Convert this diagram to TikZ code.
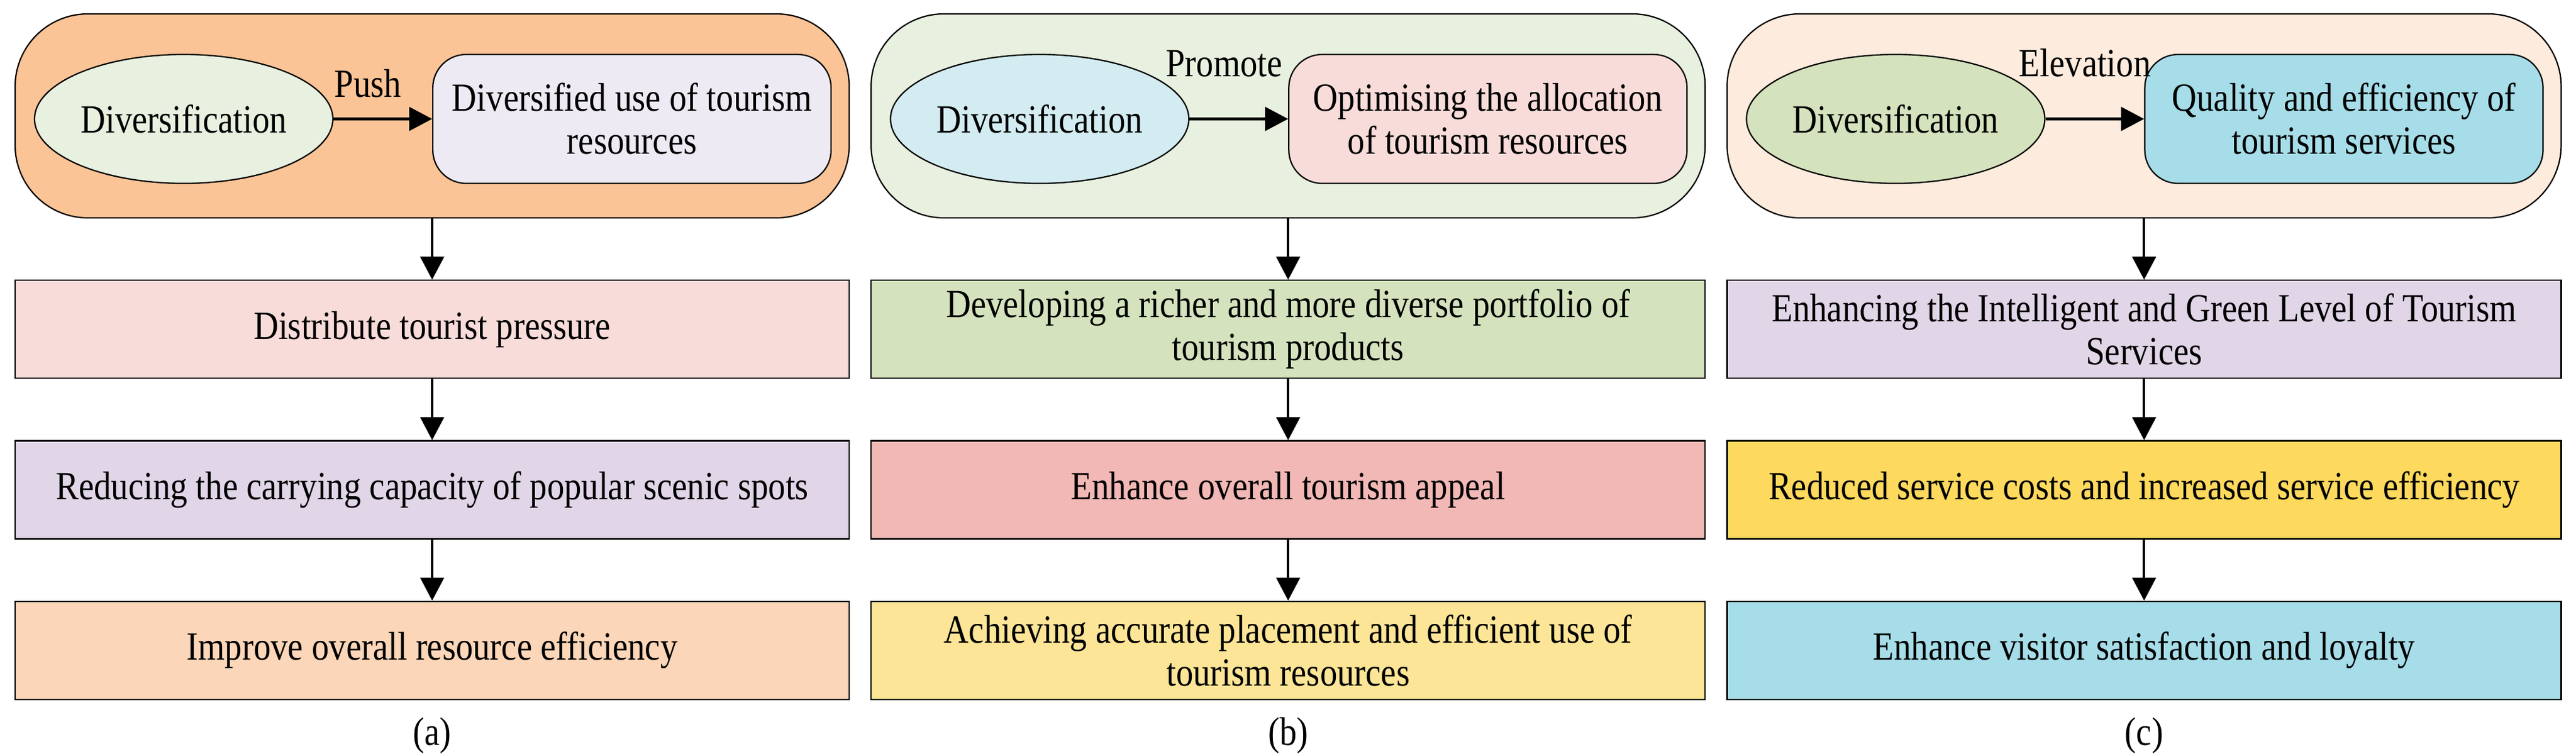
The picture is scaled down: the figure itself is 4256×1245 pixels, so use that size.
\documentclass[tikz,border=0pt]{standalone}
\usepackage{fontspec}
\setmainfont{Liberation Serif}[FakeStretch=0.86]
\usepackage{tikz}
\usetikzlibrary{shapes.geometric,arrows.meta,positioning}

\definecolor{peach}{HTML}{FBC497}
\definecolor{palegreen}{HTML}{E8F0DF}
\definecolor{lavender}{HTML}{EEEAF3}
\definecolor{palepink}{HTML}{F8DCDA}
\definecolor{lilac}{HTML}{E1D6E8}
\definecolor{lightpeach}{HTML}{FCD6B8}
\definecolor{paleblue}{HTML}{D3ECF2}
\definecolor{sage}{HTML}{D4E2BD}
\definecolor{salmon}{HTML}{F2B8B5}
\definecolor{paleyellow}{HTML}{FDE597}
\definecolor{cream}{HTML}{FDEBDD}
\definecolor{skyblue}{HTML}{A6DDE9}
\definecolor{gold}{HTML}{FDD95D}

\begin{document}
\begin{tikzpicture}[
    x=0.25pt, y=-0.25pt,
    node distance=25.25pt and 8.5pt,
    font=\fontsize{16.5}{17.75}\selectfont,
    panel/.style={rectangle, draw, line width=0.55pt, rounded corners=30pt, minimum width=344.5pt, minimum height=84.25pt},
    oval/.style={ellipse, draw, line width=0.55pt, minimum width=123.25pt, minimum height=53.25pt, inner sep=0pt},
    result/.style={rectangle, draw, line width=0.55pt, rounded corners=13.75pt, minimum width=164.5pt, minimum height=53.25pt, align=center, inner sep=2pt},
    box/.style={rectangle, draw, line width=0.55pt, minimum width=344.5pt, minimum height=40.5pt, align=center, inner sep=2pt},
    arrow/.style={-{Triangle[length=9.5pt,width=9.75pt]}, line width=1pt},
    tag/.style={inner sep=0pt, anchor=base},
    caption/.style={inner sep=0pt}
]
    \useasboundingbox (0,0) rectangle (4256,1245);

    % Panels
    \node[panel, fill=peach] (A) at (714,191.5) {};
    \node[panel, fill=palegreen, right=of A] (B) {};
    \node[panel, fill=cream, right=of B] (C) {};

    % Nodes inside the panels
    \node[oval, fill=palegreen, right=8pt of A.west, yshift=-1.25pt] (A0) {Diversification};
    \node[result, fill=lavender, right=0pt of A.center, yshift=-1.25pt] (AR) {Diversified use of tourism\\resources};
    \node[oval, fill=paleblue, right=8pt of B.west, yshift=-1.25pt] (B0) {Diversification};
    \node[result, fill=palepink, right=0pt of B.center, yshift=-1.25pt] (BR) {Optimising the allocation\\of tourism resources};
    \node[oval, fill=sage, right=8pt of C.west, yshift=-1.25pt] (C0) {Diversification};
    \node[result, fill=skyblue, right=0pt of C.center, yshift=-1.25pt] (CR) {Quality and efficiency of\\tourism services};

    % Boxes
    \node[box, fill=palepink, below=of A] (A1) {Distribute tourist pressure};
    \node[box, fill=lilac, below=of A1] (A2) {Reducing the carrying capacity of popular scenic spots};
    \node[box, fill=lightpeach, below=of A2] (A3) {Improve overall resource efficiency};
    \node[box, fill=sage, below=of B] (B1) {Developing a richer and more diverse portfolio of\\tourism products};
    \node[box, fill=salmon, below=of B1] (B2) {Enhance overall tourism appeal};
    \node[box, fill=paleyellow, below=of B2] (B3) {Achieving accurate placement and efficient use of\\tourism resources};
    \node[box, fill=lilac, below=of C] (C1) {Enhancing the Intelligent and Green Level of Tourism\\Services};
    \node[box, fill=gold, below=of C1] (C2) {Reduced service costs and increased service efficiency};
    \node[box, fill=skyblue, below=of C2] (C3) {Enhance visitor satisfaction and loyalty};

    % Captions
    \node[caption, below=7pt of A3] (Acap) {(a)};
    \node[caption, below=7pt of B3] (Bcap) {(b)};
    \node[caption, below=7pt of C3] (Ccap) {(c)};

    % Arrows
    \draw[arrow, line width=1.1pt] (A0) -- node[tag, pos=0.35, yshift=9pt] {Push} (AR);
    \draw[arrow, line width=1.1pt] (B0) -- node[tag, pos=0.35, yshift=17.5pt] {Promote} (BR);
    \draw[arrow, line width=1.1pt] (C0) -- node[tag, pos=0.4, yshift=17.5pt] {Elevation} (CR);
    \draw[arrow] (A) -- (A1);
    \draw[arrow] (A1) -- (A2);
    \draw[arrow] (A2) -- (A3);
    \draw[arrow] (B) -- (B1);
    \draw[arrow] (B1) -- (B2);
    \draw[arrow] (B2) -- (B3);
    \draw[arrow] (C) -- (C1);
    \draw[arrow] (C1) -- (C2);
    \draw[arrow] (C2) -- (C3);
\end{tikzpicture}
\end{document}
